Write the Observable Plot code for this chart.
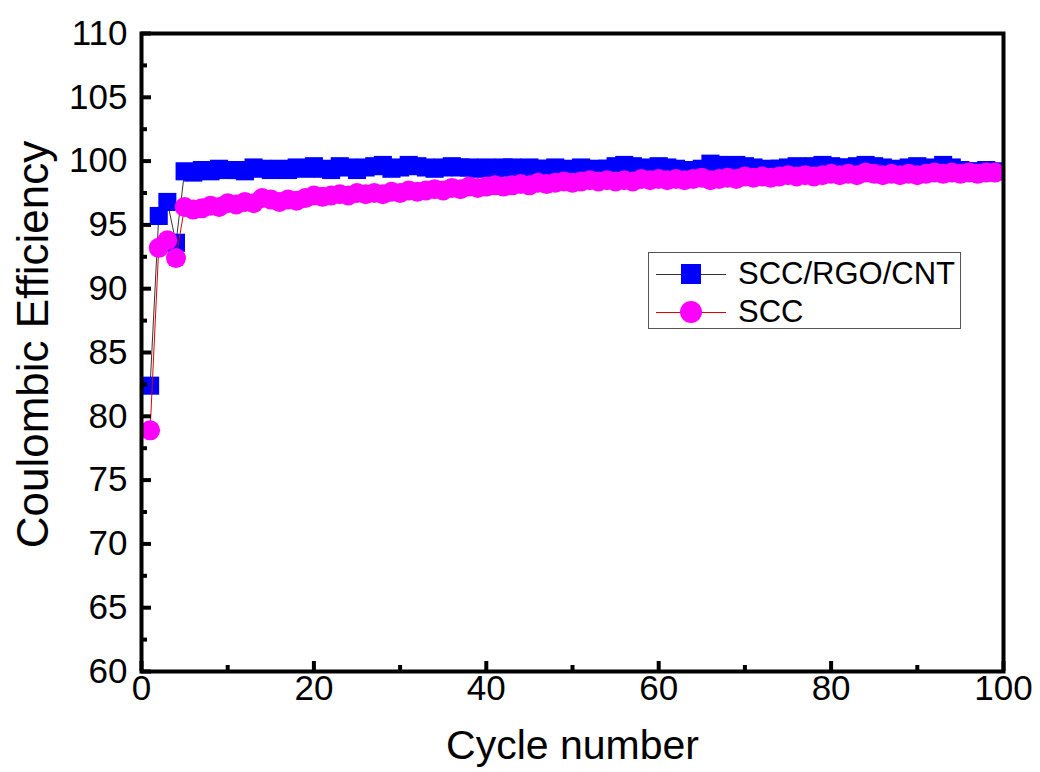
<!DOCTYPE html>
<html>
<head>
<meta charset="utf-8">
<script src="https://cdn.jsdelivr.net/npm/d3@7"></script>
<script src="https://cdn.jsdelivr.net/npm/@observablehq/plot@0.6"></script>
<style>
  html, body { margin: 0; padding: 0; background: #fff; }
  #wrap { position: relative; width: 1040px; height: 772px; font-family: "Liberation Sans", Arial, sans-serif; }
  #legend { position: absolute; left: 648px; top: 252px; width: 313px; height: 77px; border: 1.5px solid #555; background: #fff; box-sizing: border-box; }
  .row { position: absolute; left: 0; height: 38px; width: 100%; }
  .row .ln { position: absolute; left: 7px; width: 70px; top: 19px; height: 0; border-top: 1.2px solid; }
  .row .mk { position: absolute; left: 32px; top: 9px; width: 20px; height: 20px; }
  .row .tx { position: absolute; left: 89px; top: 1px; font-size: 31px; line-height: 35px; color: #000; }
</style>
</head>
<body>
<div id="wrap"></div>
<script>
const cycles = [1,2,3,4,5,6,7,8,9,10,11,12,13,14,15,16,17,18,19,20,21,22,23,24,25,26,27,28,29,30,31,32,33,34,35,36,37,38,39,40,41,42,43,44,45,46,47,48,49,50,51,52,53,54,55,56,57,58,59,60,61,62,63,64,65,66,67,68,69,70,71,72,73,74,75,76,77,78,79,80,81,82,83,84,85,86,87,88,89,90,91,92,93,94,95,96,97,98,99];

const sccRgoCnt = [82.4,95.7,96.8,93.6,99.2,
  99.1,99.3,99.2,99.4,99.3,99.3,99.2,99.5,99.4,99.3,99.4,99.3,99.5,99.4,99.6,
  99.4,99.3,99.6,99.5,99.3,99.5,99.6,99.7,99.4,99.5,99.7,99.6,99.5,99.4,99.5,
  99.6,99.5,99.5,99.4,99.5,99.4,99.5,99.5,99.4,99.5,99.4,99.4,99.5,99.3,99.4,
  99.5,99.3,99.4,99.4,99.6,99.7,99.6,99.5,99.4,99.6,99.5,99.4,99.2,99.3,99.4,
  99.8,99.7,99.6,99.7,99.6,99.5,99.3,99.4,99.4,99.5,99.6,99.5,99.6,99.7,99.6,
  99.5,99.5,99.6,99.7,99.6,99.5,99.3,99.4,99.5,99.6,99.4,99.5,99.7,99.5,99.3,
  99.2,99.2,99.3,99.2];

const scc = [78.9,93.2,93.8,92.4,96.4,
  96.2,96.3,96.5,96.4,96.7,96.6,96.8,96.7,97.1,97.0,96.8,97.0,96.9,97.1,97.3,
  97.2,97.3,97.4,97.3,97.5,97.4,97.5,97.4,97.6,97.5,97.7,97.6,97.7,97.8,97.7,
  97.9,97.8,98.0,97.9,98.0,98.1,98.0,98.1,98.2,98.1,98.3,98.2,98.3,98.4,98.3,
  98.4,98.5,98.4,98.5,98.4,98.5,98.4,98.6,98.5,98.6,98.5,98.6,98.5,98.6,98.7,
  98.5,98.6,98.7,98.6,98.8,98.7,98.8,98.7,98.8,98.9,98.8,98.9,98.8,98.9,99.0,
  98.9,99.0,98.9,99.1,99.0,98.9,99.0,98.9,99.0,98.9,99.0,99.1,99.0,99.1,99.0,
  99.1,99.0,99.1,99.1];

const seriesNames = ["SCC/RGO/CNT", "SCC"];
const xMajor = [0, 20, 40, 60, 80, 100];
const xMinor = [10, 30, 50, 70, 90];
const yMajor = [60, 65, 70, 75, 80, 85, 90, 95, 100, 105, 110];
const yMinor = [62.5, 67.5, 72.5, 77.5, 82.5, 87.5, 92.5, 97.5, 102.5, 107.5];
const xLabel = "Cycle number";
const yLabel = "Coulombic Efficiency";

const dataA = cycles.map((c, i) => ({c, v: sccRgoCnt[i]}));
const dataB = cycles.map((c, i) => ({c, v: scc[i]}));

const chart = Plot.plot({
  width: 1040,
  height: 772,
  marginLeft: 141,
  marginRight: 37,
  marginTop: 33,
  marginBottom: 101,
  x: {domain: [0, 100]},
  y: {domain: [60, 110]},
  style: {fontFamily: "'Liberation Sans', Arial, sans-serif", color: "black", background: "white", overflow: "visible"},
  marks: [
    Plot.line(dataA, {x: "c", y: "v", stroke: "#333", strokeWidth: 1}),
    Plot.dot(dataA, {x: "c", y: "v", symbol: "square", r: 10.2, fill: "#0000ff", stroke: "none"}),
    Plot.line(dataB, {x: "c", y: "v", stroke: "#e00000", strokeWidth: 1}),
    Plot.dot(dataB, {x: "c", y: "v", symbol: "circle", r: 10, fill: "#ff00ff", stroke: "none"}),
    Plot.axisY({ticks: yMajor, tickSize: -10, strokeWidth: 4, fill: "none", label: null}),
    Plot.axisY({ticks: yMinor, tickSize: -6, strokeWidth: 4, fill: "none", label: null}),
    Plot.axisX({ticks: xMajor, tickSize: -10, strokeWidth: 4, fill: "none", label: null}),
    Plot.axisX({ticks: xMinor, tickSize: -6, strokeWidth: 4, fill: "none", label: null}),
    Plot.axisY({ticks: yMajor, tickSize: 0, tickPadding: 14, fontSize: 35, label: null, tickFormat: d => String(d)}),
    Plot.axisX({ticks: xMajor, tickSize: 0, tickPadding: 4, fontSize: 35, label: null, tickFormat: d => String(d)}),
    Plot.frame({strokeWidth: 4, stroke: "black"}),
    Plot.text([xLabel], {frameAnchor: "bottom", dy: 74, fontSize: 41, lineAnchor: "middle", textAnchor: "middle", fill: "black"}),
    Plot.text([yLabel], {frameAnchor: "left", dx: -108, dy: -8, rotate: -90, fontSize: 44, lineAnchor: "middle", textAnchor: "middle", fill: "black"})
  ]
});

const wrap = document.getElementById("wrap");
wrap.appendChild(chart);

const legend = document.createElement("div");
legend.id = "legend";
const specs = [
  {name: seriesNames[0], line: "#333", fill: "#0000ff", round: false},
  {name: seriesNames[1], line: "#e00000", fill: "#ff00ff", round: true}
];
specs.forEach((s, i) => {
  const row = document.createElement("div");
  row.className = "row";
  row.style.top = (2 + i * 38) + "px";
  const ln = document.createElement("div");
  ln.className = "ln";
  ln.style.borderTopColor = s.line;
  const mk = document.createElement("div");
  mk.className = "mk";
  mk.style.background = s.fill;
  if (s.round) { mk.style.borderRadius = "50%"; mk.style.width = "22px"; mk.style.height = "22px"; mk.style.left = "31px"; mk.style.top = "8px"; }
  const tx = document.createElement("div");
  tx.className = "tx";
  tx.textContent = s.name;
  row.appendChild(ln); row.appendChild(mk); row.appendChild(tx);
  legend.appendChild(row);
});
wrap.appendChild(legend);
</script>
</body>
</html>
